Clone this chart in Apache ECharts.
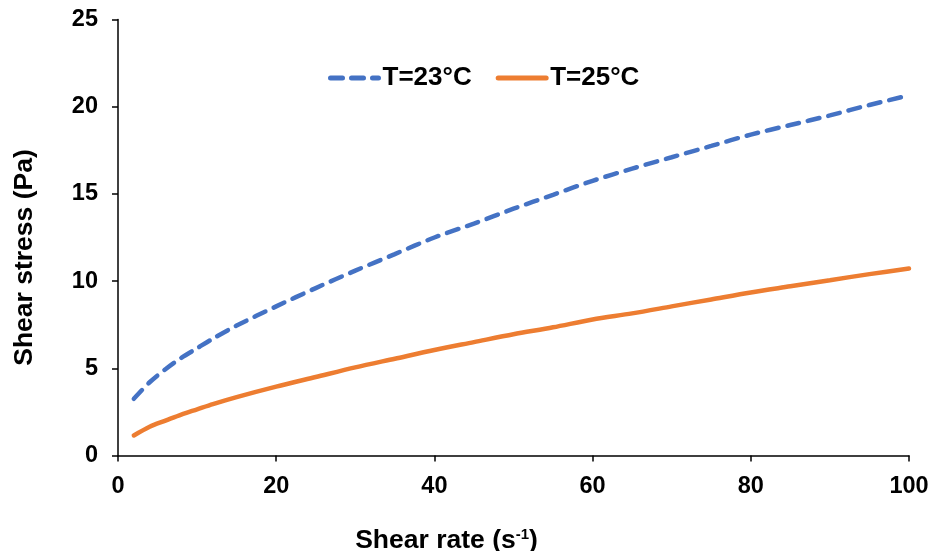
<!DOCTYPE html>
<html>
<head>
<meta charset="utf-8">
<script src="https://cdn.jsdelivr.net/npm/echarts@6/dist/echarts.min.js"></script>
<style>
html,body{margin:0;padding:0;background:#fff;}
#chart{width:929px;height:551px;}
</style>
</head>
<body>
<div id="chart"></div>
<script>
const shearRate = [2,4,6,8,10,12,15,20,25,30,35,40,45,50,55,60,65,70,75,80,85,90,95,100];
const stress23 = [3.25,4.2,4.95,5.6,6.15,6.7,7.45,8.55,9.6,10.6,11.55,12.5,13.3,14.15,14.95,15.75,16.45,17.1,17.75,18.4,18.95,19.5,20.1,20.65];
const stress25 = [1.15,1.65,2.0,2.35,2.65,2.95,3.35,3.95,4.5,5.05,5.55,6.05,6.5,6.95,7.35,7.8,8.15,8.55,8.95,9.35,9.7,10.05,10.4,10.72];
const seriesNames = ['T=23°C','T=25°C'];
const xTicks = [0,20,40,60,80,100];
const yTicks = [0,5,10,15,20,25];

const FONT = '"Liberation Sans", Arial, sans-serif';
const chart = echarts.init(document.getElementById('chart'));
const pair = (xs, ys) => xs.map((x, i) => [x, ys[i]]);

chart.setOption({
  animation: false,
  backgroundColor: '#fff',
  grid: {left: 118, right: 20, top: 19.5, bottom: 95.5, containLabel: false, outerBoundsMode: 'none'},
  legend: {
    left: 323, top: 60,
    itemWidth: 48, itemHeight: 14, itemGap: 24,
    itemStyle: {opacity: 0},
    lineStyle: {width: 5},
    textStyle: {fontFamily: FONT, fontWeight: 'bold', fontSize: 26, color: '#000', padding: [0,0,0,-1]},
    data: seriesNames
  },
  xAxis: {
    type: 'value', min: xTicks[0], max: xTicks[xTicks.length-1], interval: 20,
    axisLine: {lineStyle: {color: '#000', width: 1.5}},
    axisTick: {show: true, inside: false, length: 6, lineStyle: {color: '#000', width: 1.5}},
    axisLabel: {fontFamily: FONT, fontWeight: 'bold', fontSize: 23.5, color: '#000', margin: 19},
    splitLine: {show: false},
    name: '{t|Shear rate (s}{sup|-1}{t|)}',
    nameLocation: 'middle', nameGap: 72,
    nameTextStyle: {
      padding: [0, 134, 0, 0],
      rich: {
        t: {fontFamily: FONT, fontWeight: 'bold', fontSize: 26.5, color: '#000'},
        sup: {fontFamily: FONT, fontWeight: 'bold', fontSize: 15, color: '#000', verticalAlign: 'top', padding: [0,0,12,0]}
      }
    }
  },
  yAxis: {
    type: 'value', min: yTicks[0], max: yTicks[yTicks.length-1], interval: 5,
    axisLine: {show: true, lineStyle: {color: '#000', width: 1.5}},
    axisTick: {show: true, inside: false, length: 6, lineStyle: {color: '#000', width: 1.5}},
    axisLabel: {fontFamily: FONT, fontWeight: 'bold', fontSize: 23.5, color: '#000', margin: 20},
    splitLine: {show: false},
    name: 'Shear stress (Pa)',
    nameLocation: 'middle', nameGap: 80, nameRotate: 90,
    nameTextStyle: {fontFamily: FONT, fontWeight: 'bold', fontSize: 26.5, color: '#000', padding: [0, 40, 0, 0]}
  },
  series: [
    {
      name: seriesNames[0], type: 'line', symbol: 'none', smooth: 0.3,
      data: pair(shearRate, stress23),
      lineStyle: {color: '#4472C4', width: 4.5, type: [12, 9], cap: 'round'},
      itemStyle: {color: '#4472C4'}
    },
    {
      name: seriesNames[1], type: 'line', symbol: 'none', smooth: 0.3,
      data: pair(shearRate, stress25),
      lineStyle: {color: '#ED7D31', width: 4.5, cap: 'round'},
      itemStyle: {color: '#ED7D31'}
    }
  ]
});
</script>
</body>
</html>
